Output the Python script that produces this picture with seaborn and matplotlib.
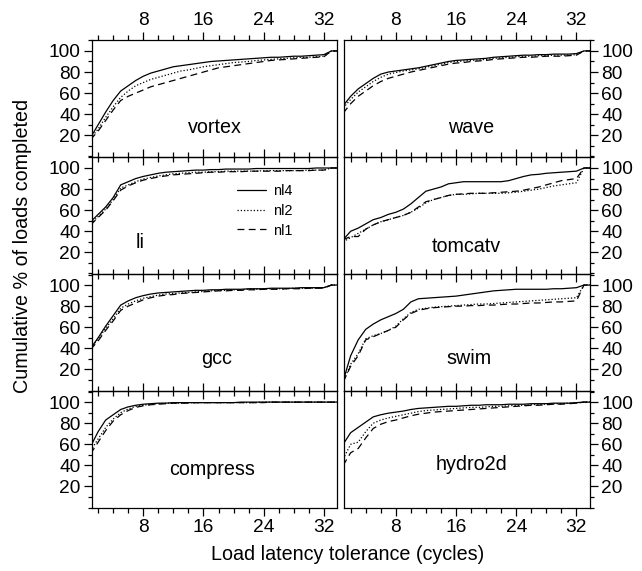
import pandas as pd
import matplotlib.pyplot as plt
import matplotlib.ticker as mticker
import seaborn as sns
from matplotlib import font_manager

sns.set_theme(style="ticks")

# fonte estreita (tipo Helvetica Narrow) se existir
_names = {f.name for f in font_manager.fontManager.ttflist}
if "Liberation Sans Narrow" in _names:
    FONT, SCALE = "Liberation Sans Narrow", 1.0
else:
    FONT, SCALE = "Liberation Sans", 0.95
plt.rcParams["font.family"] = [FONT, "DejaVu Sans"]
plt.rcParams["text.color"] = "black"
plt.rcParams["xtick.labelcolor"] = "black"
plt.rcParams["ytick.labelcolor"] = "black"

# ── dados ─────────────────────────────────────────────────────────────────────
latency = list(range(1, 35))
configs = ["nl4", "nl2", "nl1"]
benchmarks = ["vortex", "wave", "li", "tomcatv", "gcc", "swim", "compress", "hydro2d"]

vortex_nl4 = [18, 30, 42, 53, 62, 67, 72, 76, 79, 81, 83, 85, 86, 87, 88, 89, 90, 90.5, 91, 91.5,
              92, 92.5, 93, 93.5, 94, 94, 94.5, 95, 95, 95.5, 96, 96.5, 100, 100]
vortex_nl2 = [17, 26, 37, 47, 56, 62, 67, 70, 73, 75, 77, 79, 81, 82, 83.5, 85, 86, 87, 88, 89,
              89.5, 90, 91, 91.5, 92, 92.5, 93, 93.5, 94, 94, 94.5, 95, 100, 100]
vortex_nl1 = [16, 24, 34, 44, 53, 57, 60, 63, 66, 68, 70, 72, 74, 76, 78, 80, 82, 84, 85, 86,
              87, 88, 89, 90, 91, 91.5, 92, 92.5, 93, 93.5, 94, 94.5, 100, 100]

wave_nl4 = [48, 57, 64, 69, 74, 78, 80, 81, 82, 83, 84, 85.5, 87, 88.5, 90, 91, 91.5, 92, 92.5, 93,
            94, 94.5, 95, 95.5, 96, 96, 96.5, 96.5, 97, 97, 97, 97.5, 100, 100]
wave_nl2 = [46, 54, 61, 66, 71, 75, 78, 79.5, 81, 82, 83, 84.5, 86, 87.5, 89, 90, 90.5, 91, 91.5, 92,
            93, 93.5, 94, 94.5, 95, 95, 95.5, 95.5, 96, 96, 96, 96.5, 100, 100]
wave_nl1 = [41, 50, 57, 62, 67, 71, 74, 76, 78, 80, 81.5, 83, 84.5, 86, 87.5, 88.5, 89, 90, 90.5, 91,
            92, 92.5, 93, 93.5, 94, 94, 94.5, 95, 95, 95, 95.5, 96, 100, 100]

li_nl4 = [49, 56, 63, 72, 84, 87, 90, 92, 93.5, 95, 96, 96.5, 97, 97.5, 98, 98, 98.5, 98.5, 99, 99,
          99, 99, 99.5, 99.5, 99.5, 99.5, 99.5, 99.5, 99.5, 99.5, 100, 100, 100, 100]
li_nl2 = [47, 54, 61, 70, 81, 84, 87, 89.5, 91, 92.5, 93.5, 94.5, 95, 95.5, 96, 96, 96.5, 96.5, 97, 97,
          97, 97, 97, 97.5, 97.5, 97.5, 97.5, 97.5, 97.5, 98, 98, 98, 100, 100]
li_nl1 = [46, 53, 60, 69, 79, 83, 86, 88.5, 90, 91.5, 92.5, 93.5, 94, 94.5, 95, 95.5, 96, 96, 96.5, 96.5,
          96.5, 97, 97, 97, 97, 97, 97.5, 97.5, 97.5, 97.5, 98, 98, 100, 100]

tomcatv_nl4 = [32, 40, 43, 47, 51, 53, 56, 58, 61, 66, 72, 78, 80, 82, 85, 86, 87, 87, 87, 87,
               87, 87, 88, 90, 92, 93.5, 94, 95, 95.5, 96, 96.5, 97, 100, 100]
tomcatv_nl2 = [30, 34, 38, 42, 46, 49, 51, 53, 55, 58, 62, 67, 70, 72, 74, 75, 75, 75.5, 76, 76,
               76, 76, 76.5, 77, 78, 79, 80, 81.5, 83, 84, 85, 86, 100, 100]
tomcatv_nl1 = [32, 35, 35, 42, 46, 49, 51, 53, 55, 58, 63, 68, 70, 72, 74, 75, 75.5, 76, 76, 76,
               76.5, 77, 77.5, 78, 79, 80.5, 82, 84, 86, 88, 89, 90, 100, 100]

gcc_nl4 = [40, 50, 61, 71, 81, 85, 88, 90, 91.5, 92.5, 93, 93.5, 94, 94.5, 95, 95, 95.5, 95.5, 96, 96,
           96, 96.5, 96.5, 96.5, 97, 97, 97, 97, 97.5, 97.5, 97.5, 97.5, 100, 100]
gcc_nl2 = [40, 49, 59, 68, 78, 82, 85, 87.5, 89, 90.5, 91.5, 92, 92.5, 93, 93.5, 94, 94.5, 95, 95, 95.5,
           95.5, 96, 96, 96, 96.5, 96.5, 96.5, 97, 97, 97, 97, 97.5, 100, 100]
gcc_nl1 = [39, 47, 57, 66, 76, 80, 83, 86, 88, 89.5, 90.5, 91, 92, 92.5, 93, 93.5, 94, 94.5, 94.5, 95,
           95, 95.5, 95.5, 96, 96, 96, 96.5, 96.5, 96.5, 97, 97, 97, 100, 100]

swim_nl4 = [9, 33, 48, 58, 63, 67, 70, 73, 77, 84, 87, 87.5, 88, 88.5, 89, 89.5, 90.5, 91.5, 92.5, 93.5,
            94.5, 95, 95.5, 96, 96, 96, 96, 96, 96.5, 96.5, 97, 97.5, 100, 100]
swim_nl2 = [8, 25, 35, 49, 52, 54, 57, 61, 68, 74, 77, 78, 79, 79.5, 80, 80.5, 81, 81.5, 82, 82,
            82.5, 83, 83.5, 84, 84.5, 85, 85.5, 86, 86.5, 87, 87.5, 88, 100, 100]
swim_nl1 = [8, 23, 33, 48, 51, 54, 57, 60, 67, 73, 76, 77.5, 78.5, 79, 79.5, 80, 80, 80.5, 80.5, 81,
            81, 81.5, 82, 82, 82.5, 83, 83, 83.5, 84, 84, 84.5, 85, 100, 100]

compress_nl4 = [58, 72, 83, 88, 93, 95.5, 97, 98, 98.5, 99, 99, 99.5, 99.5, 99.5, 99.5, 99.5, 99.5, 99.5, 99.5, 99.5,
                100, 100, 100, 100, 100, 100, 100, 100, 100, 100, 100, 100, 100, 100]
compress_nl2 = [54, 65, 76, 84, 90, 93.5, 96, 97, 98, 98.5, 99, 99, 99, 99.5, 99.5, 99.5, 99.5, 99.5, 99.5, 99.5,
                99.5, 99.5, 99.5, 100, 100, 100, 100, 100, 100, 100, 100, 100, 100, 100]
compress_nl1 = [51, 62, 73, 82, 88, 92, 95, 96.5, 97.5, 98, 98.5, 99, 99, 99, 99.5, 99.5, 99.5, 99.5, 99.5, 99.5,
                99.5, 99.5, 99.5, 99.5, 100, 100, 100, 100, 100, 100, 100, 100, 100, 100]

hydro2d_nl4 = [60, 71, 76, 81, 86, 88, 89.5, 90.5, 91.5, 93, 94, 94.5, 95, 95.5, 96, 96, 96.5, 97, 97, 97.5,
               97.5, 97.5, 98, 98, 98, 98.5, 98.5, 98.5, 99, 99, 99, 99.5, 100, 100]
hydro2d_nl2 = [46, 60, 62, 72, 80, 83, 85, 86.5, 88, 89.5, 91, 92, 92.5, 93, 93.5, 94, 94.5, 95, 95, 95.5,
               96, 96, 96.5, 97, 97, 97.5, 98, 98, 98.5, 98.5, 99, 99, 100, 100]
hydro2d_nl1 = [40, 52, 56, 66, 75, 79, 81.5, 83, 85, 87, 88.5, 89.5, 90.5, 91, 91.5, 92, 92.5, 93, 93.5, 94,
               94.5, 95, 95.5, 96, 96.5, 97, 97, 97.5, 98, 98, 98.5, 99, 100, 100]

series = {
    "vortex": (vortex_nl4, vortex_nl2, vortex_nl1),
    "wave": (wave_nl4, wave_nl2, wave_nl1),
    "li": (li_nl4, li_nl2, li_nl1),
    "tomcatv": (tomcatv_nl4, tomcatv_nl2, tomcatv_nl1),
    "gcc": (gcc_nl4, gcc_nl2, gcc_nl1),
    "swim": (swim_nl4, swim_nl2, swim_nl1),
    "compress": (compress_nl4, compress_nl2, compress_nl1),
    "hydro2d": (hydro2d_nl4, hydro2d_nl2, hydro2d_nl1),
}

rows = []
for bench, vals in series.items():
    for cfg, ys in zip(configs, vals):
        for x, y in zip(latency, ys):
            rows.append({"bench": bench, "config": cfg, "latency": x, "pct": y})
df = pd.DataFrame(rows)

# posições dos rótulos dos painéis (coordenadas de dados)
label_pos = {
    "vortex": (17.5, 27.5), "wave": (18, 27.5), "li": (7.6, 29), "tomcatv": (17.3, 26),
    "gcc": (17.8, 30), "swim": (17.7, 30), "compress": (17.2, 36.5), "hydro2d": (18, 41),
}
dashes = {"nl4": "", "nl2": (1, 1.6), "nl1": (5.5, 3.5)}

fs = 14.5 * SCALE

fig = plt.figure(figsize=(6.42, 5.71), dpi=100)
axes = fig.subplots(4, 2)
fig.subplots_adjust(left=0.143, right=0.919, top=0.930, bottom=0.110, wspace=0.028, hspace=0)

for i, bench in enumerate(benchmarks):
    r, c = divmod(i, 2)
    ax = axes[r, c]
    sub = df[df["bench"] == bench]
    sns.lineplot(data=sub, x="latency", y="pct", style="config", style_order=configs,
                 dashes=dashes, color="black", linewidth=0.9, ax=ax,
                 legend=(bench == "li"))
    ax.set_facecolor("none")
    ax.set_xlim(1.16, 33.8)
    ax.set_ylim(-0.6, 110.4)
    ax.set_xlabel("")
    ax.set_ylabel("")
    ax.xaxis.set_major_locator(mticker.FixedLocator([8, 16, 24, 32]))
    ax.xaxis.set_minor_locator(mticker.MultipleLocator(2))
    ax.yaxis.set_major_locator(mticker.FixedLocator([20, 40, 60, 80, 100]))
    ax.yaxis.set_minor_locator(mticker.MultipleLocator(10))
    for sp in ax.spines.values():
        sp.set_color("black")
        sp.set_linewidth(0.9)
    ax.tick_params(axis="x", which="both", direction="out", top=True, bottom=True,
                   labeltop=(r == 0), labelbottom=(r == 3), color="black", width=0.9,
                   labelsize=fs, pad=2)
    ax.tick_params(axis="x", which="major", length=6)
    ax.tick_params(axis="x", which="minor", length=3.5)
    ax.tick_params(axis="y", which="both", direction="out", left=(c == 0), right=(c == 1),
                   labelleft=(c == 0), labelright=(c == 1), color="black", width=0.9,
                   labelsize=fs, pad=2)
    ax.tick_params(axis="y", which="major", length=6)
    ax.tick_params(axis="y", which="minor", length=3)
    lx, ly = label_pos[bench]
    ax.text(lx, ly, bench, ha="center", va="center", fontsize=15 * SCALE)
    if bench == "li":
        sns.move_legend(ax, "upper left", bbox_to_anchor=(0.59, 0.77), frameon=False,
                        title=None, fontsize=11 * SCALE, handlelength=2.0,
                        handletextpad=0.5, labelspacing=0.4, borderpad=0, borderaxespad=0)

fig.supxlabel("Load latency tolerance (cycles)", x=0.542, y=0.012, fontsize=15 * SCALE)
fig.supylabel("Cumulative % of loads completed", x=0.02, y=0.57, fontsize=15 * SCALE)

fig.savefig("out.png", dpi=100, facecolor="white")
